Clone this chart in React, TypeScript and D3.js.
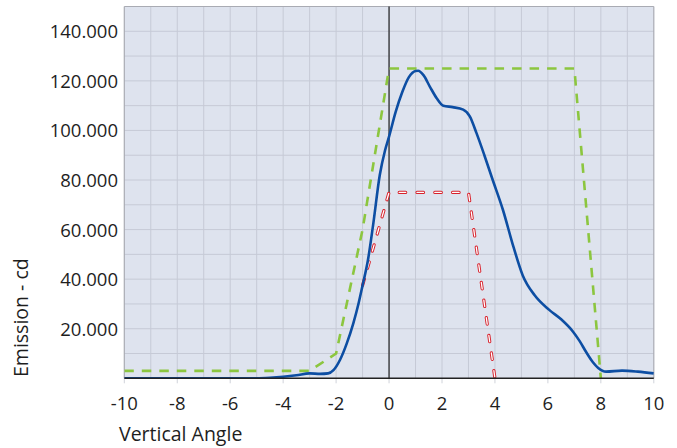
import React from 'react';
import * as d3 from 'd3';

const blueAngles = [-10, -5, -4.5, -4, -3.5, -3, -2.6, -2.3, -2.1, -1.85, -1.6, -1.35, -1.15, -1, -0.8, -0.6, -0.35, -0.15, 0, 0.25, 0.5, 0.75, 1.0, 1.1, 1.3, 1.55, 1.8, 2.05, 2.4, 2.8, 3.05, 3.3, 3.6, 3.9, 4.3, 4.7, 5.05, 5.5, 6.05, 6.5, 6.95, 7.2, 7.45, 7.7, 7.9, 8.2, 8.8, 9.4, 10];
const blueValues = [0, 0, 200, 600, 1200, 2000, 1800, 2000, 3300, 7500, 14000, 22200, 30300, 37500, 47500, 62000, 82000, 92000, 97500, 107500, 115500, 121500, 124000, 124100, 122300, 117500, 113000, 110000, 109400, 108400, 105700, 99000, 90000, 80500, 68000, 53000, 41500, 33500, 27600, 23800, 18800, 15000, 10500, 6500, 4200, 2700, 3100, 2700, 2000];

const greenAngles = [-10, -3, -2, -1, 0, 7, 8];
const greenValues = [3000, 3000, 10000, 60000, 125000, 125000, 0];

const redAngles = [-1, 0, 3, 4];
const redValues = [37500, 75000, 75000, 0];

const xTicks = [-10, -8, -6, -4, -2, 0, 2, 4, 6, 8, 10];
const yTicks = [20000, 40000, 60000, 80000, 100000, 120000, 140000];
const yTickLabels = ['20.000', '40.000', '60.000', '80.000', '100.000', '120.000', '140.000'];
const xTickLabels = ['-10', '-8', '-6', '-4', '-2', '0', '2', '4', '6', '8', '10'];

const W = 677;
const H = 448;
const L = 124.3, R = 653.8, T = 6.5, B = 378.3;

export default function App() {
  const x = d3.scaleLinear().domain([-10, 10]).range([L, R]);
  const y = d3.scaleLinear().domain([0, 150000]).range([B, T]);
  const line = (xs: number[], ys: number[], curve: any) =>
    d3.line<number>().x((_, i) => x(xs[i])).y((_, i) => y(ys[i])).curve(curve)(xs) || '';

  const vGrid = d3.range(-9, 10, 1);
  const hGrid = d3.range(10000, 150000, 10000);
  const font = '"Open Sans", sans-serif';

  const bluePath = line(blueAngles, blueValues, d3.curveMonotoneX);
  const greenPath = line(greenAngles, greenValues, d3.curveLinear);
  const redPath = line(redAngles, redValues, d3.curveLinear);

  return (
    <div style={{ position: 'fixed', left: 0, top: 0 }}>
      <svg width={W} height={H} style={{ display: 'block', background: '#fff' }}>
        <defs>
          <clipPath id="plot">
            <rect x={L} y={T} width={R - L} height={B - T} />
          </clipPath>
        </defs>
        <rect x={L} y={T} width={R - L} height={B - T} fill="#dee3ee" />
        {vGrid.map((v) => (
          <line key={'v' + v} x1={x(v)} x2={x(v)} y1={T} y2={B} stroke="#c6cad6" strokeWidth={1} />
        ))}
        {hGrid.map((v) => (
          <line key={'h' + v} x1={L} x2={R} y1={y(v)} y2={y(v)} stroke="#c6cad6" strokeWidth={1} />
        ))}
        <line x1={L} x2={R} y1={T} y2={T} stroke="#a9abb3" strokeWidth={1.2} />
        <line x1={L} x2={L} y1={T} y2={B} stroke="#a9abb3" strokeWidth={1.2} />
        <line x1={R} x2={R} y1={T} y2={B} stroke="#a9abb3" strokeWidth={1.2} />
        <line x1={x(0)} x2={x(0)} y1={T} y2={B} stroke="#111" strokeWidth={1.1} />
        {xTicks.map((v) => (
          <line key={'t' + v} x1={x(v)} x2={x(v)} y1={B} y2={B + 5} stroke="#d0d3da" strokeWidth={1} />
        ))}
        <g clipPath="url(#plot)">
          <path d={greenPath} fill="none" stroke="#8cc63f" strokeWidth={2.6} strokeDasharray="9.5 8" />
          <path d={redPath} fill="none" stroke="#d8222c" strokeWidth={3.2} strokeDasharray="6.5 11.3" strokeLinecap="round" />
          <path d={redPath} fill="none" stroke="#ffffff" strokeWidth={1.3} strokeDasharray="6.5 11.3" strokeLinecap="round" />
          <path d={bluePath} fill="none" stroke="#0d4ea3" strokeWidth={2.6} />
        </g>
        <line x1={L} x2={R} y1={B} y2={B} stroke="#222" strokeWidth={1.6} />
        {yTicks.map((v, i) => (
          <text key={'yl' + v} x={118} y={y(v) + 7} textAnchor="end" fontFamily={font} fontSize={18.5} fill="#1e1e1e">
            {yTickLabels[i]}
          </text>
        ))}
        {xTicks.map((v, i) => (
          <text key={'xl' + v} x={x(v)} y={410} textAnchor="middle" fontFamily={font} fontSize={18.5} fill="#1e1e1e">
            {xTickLabels[i]}
          </text>
        ))}
        <text x={119} y={441} fontFamily={font} fontSize={19.5} fill="#1e1e1e">Vertical Angle</text>
        <text transform="translate(28,377) rotate(-90)" x={0} y={0} fontFamily={font} fontSize={19.5} fill="#1e1e1e">Emission - cd</text>
      </svg>
    </div>
  );
}
